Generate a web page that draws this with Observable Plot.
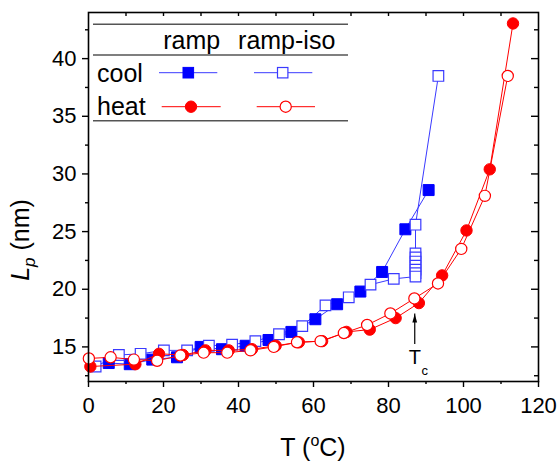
<!DOCTYPE html>
<html><head><meta charset="utf-8">
<script src="https://cdn.jsdelivr.net/npm/d3@7"></script>
<script src="https://cdn.jsdelivr.net/npm/@observablehq/plot@0.6"></script>
<style>body{margin:0;background:#fff} #chart svg{display:block}</style>
</head><body><div id="chart"></div>
<script>
// ---- data ----
const coolRampT = [90.7, 84.5, 78.3, 72.5, 66.3, 60.5, 54.1, 48.0, 41.9, 35.6, 29.9, 23.6, 17.0, 11.0, 5.4];
const coolRampL = [28.6, 25.2, 21.5, 19.8, 18.7, 17.4, 16.3, 15.6, 15.1, 14.8, 15.0, 14.1, 13.9, 13.5, 13.6];

const coolIsoT = [93.3, 87.2, 87.2, 87.2, 87.2, 87.2, 87.2, 87.2, 87.2, 81.4, 75.2, 69.4, 63.2, 57.0, 50.8, 44.5, 38.3, 32.1, 26.3, 20.1, 13.9, 8.1, 1.9];
const coolIsoL = [38.5, 25.6, 23.1, 22.75, 22.4, 22.05, 21.7, 21.4, 21.1, 20.9, 20.4, 19.3, 18.6, 16.8, 16.1, 15.5, 15.2, 15.1, 14.7, 14.7, 14.4, 14.3, 13.3];

const heatRampT = [0.5, 12.5, 18.8, 25.2, 31.2, 37.4, 43.6, 49.9, 56.1, 62.3, 68.8, 75.0, 81.9, 88.1, 94.3, 100.8, 107.0, 113.2];
const heatRampL = [13.3, 13.5, 14.4, 14.3, 14.7, 14.7, 14.8, 15.1, 15.4, 15.5, 16.3, 16.5, 17.5, 18.8, 21.2, 25.1, 30.4, 43.05];

const heatIsoT = [0.1, 5.9, 12.1, 18.3, 24.5, 30.7, 37.0, 43.2, 49.4, 55.6, 61.9, 68.1, 74.3, 80.5, 86.9, 93.2, 99.4, 105.7, 111.8];
const heatIsoL = [14.0, 14.1, 13.9, 13.8, 14.25, 14.5, 14.5, 14.7, 15.0, 15.4, 15.5, 16.2, 16.9, 17.9, 19.2, 20.5, 23.5, 28.1, 38.5];

const xMajorTicks = [0, 20, 40, 60, 80, 100, 120];
const xMinorTicks = [10, 30, 50, 70, 90, 110];
const xTopTicks = [10, 20, 30, 40, 50, 60, 70, 80, 90, 100, 110];
const yMajorTicks = [15, 20, 25, 30, 35, 40];
const yMinorTicks = [12.5, 17.5, 22.5, 27.5, 32.5, 37.5, 42.5];
const yRightMajor = [15, 20, 25, 30, 35, 40];
const yRightMinor = [12.5, 17.5, 22.5, 27.5, 32.5, 37.5, 42.5];

const tcT = 87.0;           // Tc arrow position
const tcArrowL = [15.2, 17.86];
const tcLabelL = 14.07;

const seriesNames = ["ramp", "ramp-iso"];
const rowNames = ["cool", "heat"];
const xLabel = "T";
const yLabelUnit = "(nm)";

// ---- build tables ----
const zip = (T, L) => T.map((t, i) => ({T: t, L: L[i]}));
const coolRamp = zip(coolRampT, coolRampL);
const coolIso = zip(coolIsoT, coolIsoL);
const heatRamp = zip(heatRampT, heatRampL);
const heatIso = zip(heatIsoT, heatIsoL);

const BLUE = "#0000ff", LBLUE = "#3a3aff", RED = "#ff0000";
const FONT = "'Liberation Sans', Arial, sans-serif";

const W = 558, H = 461, ML = 88, MR = 20, MT = 12, MB = 80;
const FW = W - ML - MR, FH = H - MT - MB;

const arrowHead = {draw(ctx) { ctx.moveTo(0, 0); ctx.lineTo(2.4, 8.5); ctx.lineTo(-2.4, 8.5); ctx.closePath(); }};

const chart = Plot.plot({
  width: W, height: H,
  marginLeft: ML, marginRight: MR, marginTop: MT, marginBottom: MB,
  style: {fontFamily: FONT, fontSize: "22px", color: "#000", background: "#fff", overflow: "visible"},
  x: {domain: [0, 120], axis: null, label: null},
  y: {domain: [12, 44], axis: null, label: null},
  marks: [
    // data
    Plot.line(coolRamp, {x: "T", y: "L", stroke: LBLUE, strokeWidth: 1}),
    Plot.line(coolIso, {x: "T", y: "L", stroke: LBLUE, strokeWidth: 1}),
    Plot.dot(coolRamp, {x: "T", y: "L", symbol: "square", r: 6.2, fill: BLUE, stroke: BLUE, strokeWidth: 1}),
    Plot.dot(coolIso, {x: "T", y: "L", symbol: "square", r: 6.0, fill: "#fff", stroke: LBLUE, strokeWidth: 1.2}),
    Plot.line(heatRamp, {x: "T", y: "L", stroke: RED, strokeWidth: 1}),
    Plot.line(heatIso, {x: "T", y: "L", stroke: RED, strokeWidth: 1}),
    Plot.dot(heatRamp, {x: "T", y: "L", symbol: "circle", r: 5.7, fill: RED, stroke: RED, strokeWidth: 1}),
    Plot.dot(heatIso, {x: "T", y: "L", symbol: "circle", r: 5.6, fill: "#fff", stroke: RED, strokeWidth: 1.2}),
    // Tc annotation
    Plot.ruleX([tcT], {y1: tcArrowL[0], y2: tcArrowL[1], stroke: "#000", strokeWidth: 1.2}),
    Plot.dot([tcT], {x: d => d, y: tcArrowL[1], symbol: arrowHead, r: 3, fill: "#000", stroke: "none"}),
    Plot.text(["T"], {x: tcT, y: tcLabelL, text: d => d, fontSize: 20, fill: "#000"}),
    Plot.text(["c"], {x: tcT, y: tcLabelL, text: d => d, fontSize: 13, dx: 10, dy: 13, fill: "#000"}),
    // axes
    Plot.frame({stroke: "#000", strokeWidth: 1.6}),
    Plot.axisX({ticks: xMajorTicks, label: null, tickSize: 6, tickPadding: 10, fontSize: 22, strokeWidth: 1.4, tickFormat: d => d}),
    Plot.axisX({ticks: xMinorTicks, label: null, tickSize: 3, strokeWidth: 1.4, tickFormat: () => ""}),
    Plot.axisY({ticks: yMajorTicks, label: null, tickSize: 6, tickPadding: 6, fontSize: 22, strokeWidth: 1.4, tickFormat: d => d}),
    Plot.axisY({ticks: yMinorTicks, label: null, tickSize: 3, strokeWidth: 1.4, tickFormat: () => ""}),
    Plot.ruleX(xTopTicks, {x: d => d, insetBottom: FH - 4, stroke: "#000", strokeWidth: 1.4}),
    Plot.ruleY(yRightMajor, {y: d => d, insetLeft: FW - 7, stroke: "#000", strokeWidth: 1.4}),
    Plot.ruleY(yRightMinor, {y: d => d, insetLeft: FW - 4, stroke: "#000", strokeWidth: 1.4})
  ]
});

document.getElementById("chart").appendChild(chart);

// ---- axis titles and legend drawn as extra SVG text ----
const svg = d3.select(chart);

// x title: T (°C) with superscript o
const xt = svg.append("text").attr("x", 313).attr("y", 456).attr("text-anchor", "middle")
  .attr("font-family", FONT).attr("font-size", 25).attr("fill", "#000");
xt.append("tspan").text(xLabel + " (");
xt.append("tspan").attr("font-size", 16).attr("dy", -10).text("o");
xt.append("tspan").attr("dy", 10).text("C)");

// y title: L_p (nm)
const yt = svg.append("text").attr("transform", "translate(29,240) rotate(-90)").attr("text-anchor", "middle")
  .attr("font-family", FONT).attr("font-size", 25).attr("fill", "#000");
yt.append("tspan").attr("font-style", "italic").text("L");
yt.append("tspan").attr("font-style", "italic").attr("font-size", 17).attr("dy", 6).text("p");
yt.append("tspan").attr("dy", -6).text(" " + yLabelUnit);

// legend
const lg = svg.append("g").attr("font-family", FONT).attr("font-size", 25).attr("fill", "#000");
[24.3, 55, 120.7].forEach(y => lg.append("line").attr("x1", 93).attr("x2", 348).attr("y1", y).attr("y2", y)
  .attr("stroke", "#555").attr("stroke-width", 1.6));
lg.append("text").attr("x", 191.7).attr("y", 49).attr("text-anchor", "middle").text(seriesNames[0]);
lg.append("text").attr("x", 286.7).attr("y", 49).attr("text-anchor", "middle").text(seriesNames[1]);
lg.append("text").attr("x", 97).attr("y", 81.5).attr("text-anchor", "start").text(rowNames[0]);
lg.append("text").attr("x", 97).attr("y", 115).attr("text-anchor", "start").text(rowNames[1]);
// samples
const sample = (x1, x2, y, color) => lg.append("line").attr("x1", x1).attr("x2", x2).attr("y1", y).attr("y2", y)
  .attr("stroke", color).attr("stroke-width", 1);
sample(159, 217.3, 72.7, LBLUE);
sample(254, 312.3, 72.7, LBLUE);
sample(161.7, 220.7, 106.7, RED);
sample(256.7, 315, 106.7, RED);
lg.append("rect").attr("x", 188.3 - 5.3).attr("y", 72.7 - 5.3).attr("width", 10.6).attr("height", 10.6).attr("fill", BLUE).attr("stroke", BLUE);
lg.append("rect").attr("x", 282.7 - 5.2).attr("y", 72.7 - 5.2).attr("width", 10.4).attr("height", 10.4).attr("fill", "#fff").attr("stroke", LBLUE).attr("stroke-width", 1.2);
lg.append("circle").attr("cx", 191).attr("cy", 106.7).attr("r", 5.7).attr("fill", RED).attr("stroke", RED);
lg.append("circle").attr("cx", 285.7).attr("cy", 106.7).attr("r", 5.6).attr("fill", "#fff").attr("stroke", RED).attr("stroke-width", 1.2);
</script>
</body></html>
